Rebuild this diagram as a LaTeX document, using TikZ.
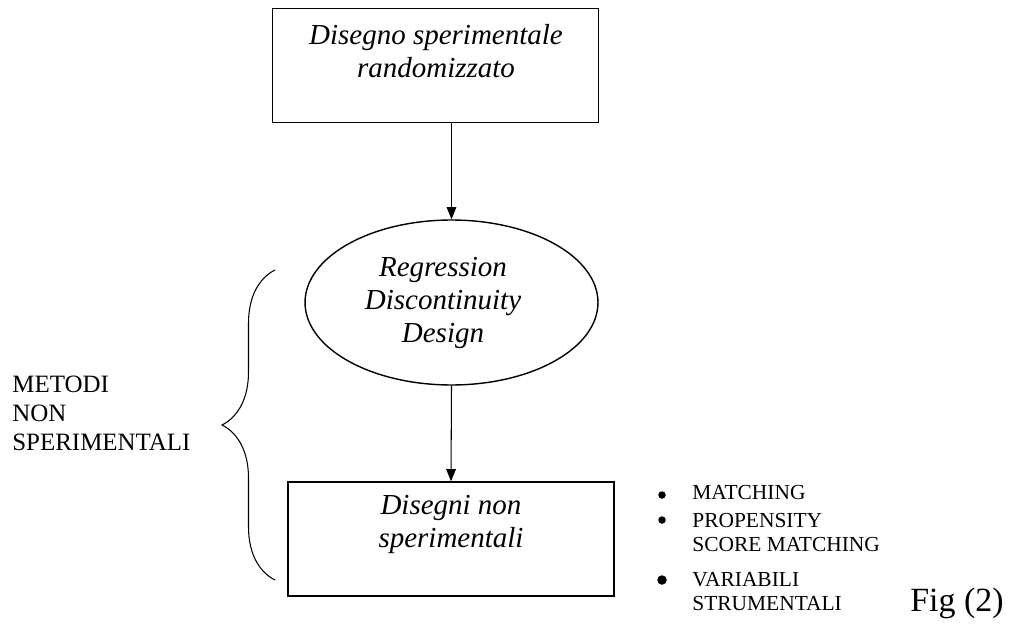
\documentclass[tikz,border=0pt]{standalone}
\usepackage{fontspec}
\setmainfont{Liberation Serif}
\usetikzlibrary{arrows.meta,positioning,shapes.geometric,decorations.pathreplacing}

\begin{document}
\begin{tikzpicture}[x=0.02cm,y=-0.02cm,
  box/.style={draw, line width=0.8pt, minimum width=6.52cm, minimum height=2.28cm, inner sep=0pt},
  oval/.style={ellipse, draw, line width=0.8pt, minimum width=5.86cm, minimum height=3.3cm, inner sep=0pt},
  ital/.style={font=\fontsize{16.5}{18.7}\selectfont\itshape, align=center, inner sep=0pt, anchor=north},
  caps/.style={font=\fontsize{14.2}{16.4}\selectfont, align=left, inner sep=0pt, anchor=north west},
  item/.style={font=\fontsize{12.2}{13.6}\selectfont, align=left, inner sep=0pt, anchor=north west},
  dot/.style={circle, fill, inner sep=0pt, minimum size=0.15cm},
  arr/.style={-{Triangle[length=7pt,width=5.5pt]}, line width=0.6pt}]
\useasboundingbox (0,0) rectangle (1014,632);
\node[box] (rct) at (435.5,65.5) {};
\node[ital] (rct-t) at (436,24) {Disegno sperimentale\\randomizzato};
\node[oval] (rdd) at (451.5,302.5) {};
\node[ital] (rdd-t) at (443,257) {Regression\\Discontinuity\\Design};
\node[box] (nsp) at (451,539) {};
\node[ital] (nsp-t) at (451,495) {Disegni non\\sperimentali};
\draw[arr] (rct.south -| rdd.north) -- (rdd.north);
\draw[arr] (rdd.south) -- (nsp.north);

\coordinate (br-a) at (275,580);
\coordinate (br-b) at (275,270);
\draw[decorate, decoration={brace, amplitude=1.06cm}, line width=0.6pt] (br-a) -- (br-b);
\node[caps] (met) at (12,376) {METODI\\NON\\SPERIMENTALI};

\node[dot] (b1) at (662,495) {};
\node[item] (i1) at (692,485) {MATCHING};
\node[dot] (b2) at (662,520) {};
\node[item] (i2) at (692,513) {PROPENSITY\\SCORE MATCHING};
\node[dot, minimum size=0.19cm] (b3) at (662,580) {};
\node[item] (i3) at (692,572) {VARIABILI\\STRUMENTALI};
\node[font=\fontsize{19.3}{22}\selectfont, inner sep=0pt, anchor=base west] (fig) at (910,611) {Fig (2)};
\end{tikzpicture}
\end{document}
